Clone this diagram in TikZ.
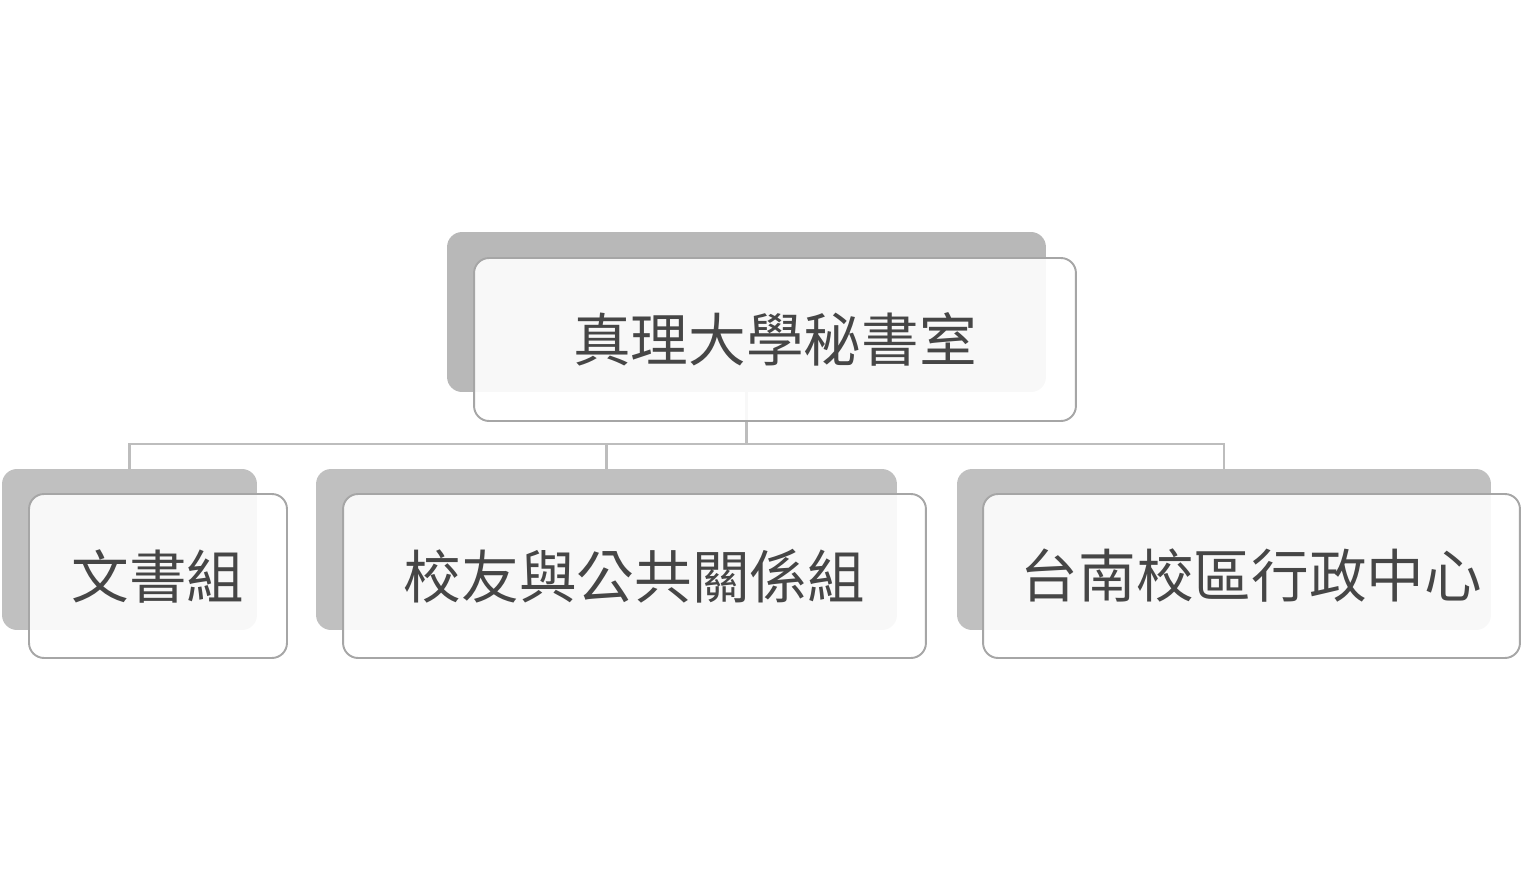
\documentclass[tikz,border=0pt]{standalone}
\usepackage{fontspec}
\newfontfamily\cjk{Noto Sans CJK TC}
\usetikzlibrary{positioning}

\definecolor{backgray}{HTML}{B8B8B8}
\definecolor{backgraylt}{HTML}{C0C0C0}
\definecolor{framegray}{HTML}{A6A6A6}
\definecolor{linkgray}{HTML}{BDBDBD}
\definecolor{textgray}{HTML}{464646}

\begin{document}
\begin{tikzpicture}[x=0.02cm, y=-0.02cm,
	every node/.style={font=\cjk\fontsize{32.8}{36}\selectfont, inner sep=0pt, outer sep=0pt},
	backbox/.style={fill=backgraylt, rounded corners=0.3cm, minimum height=3.22cm},
	frontbox/.style={draw=framegray, line width=1.1pt, fill=white, fill opacity=0.9,
		text opacity=1, text=textgray, rounded corners=0.3cm, minimum height=3.28cm},
	link/.style={draw=linkgray, line width=1.2pt}]
	
	% page frame
	\useasboundingbox (0,0) rectangle (1536,889);
	
	% back boxes
	\node[backbox, fill=backgray, minimum width=11.98cm, minimum height=3.2cm] (headB) at (746.5,312) {};
	\node[backbox, minimum width=5.1cm] (docB) at (129.5,549.5) {};
	\node[backbox, minimum width=11.62cm] (pubB) at (606.5,549.5) {};
	\node[backbox, minimum width=10.68cm] (tnB) at (1224,549.5) {};
	
	% connectors
	\coordinate (bus) at (746.5,444);
	\draw[link] (headB.south) -- (bus);
	\draw[link] (bus) -| (docB.north);
	\draw[link] (bus) -| (pubB.north);
	\draw[link] (bus) -| (tnB.north);
	
	% front boxes
	\node[frontbox, minimum width=12.04cm, minimum height=3.26cm] (head) at (775,339.5) {真理大學秘書室};
	\node[frontbox, minimum width=5.16cm] (doc) at (158,576) {文書組};
	\node[frontbox, minimum width=11.66cm] (pub) at (634.5,576) {校友與公共關係組};
	\node[frontbox, minimum width=10.74cm] (tn) at (1251.5,576) {台南校區行政中心};
	
\end{tikzpicture}
\end{document}
